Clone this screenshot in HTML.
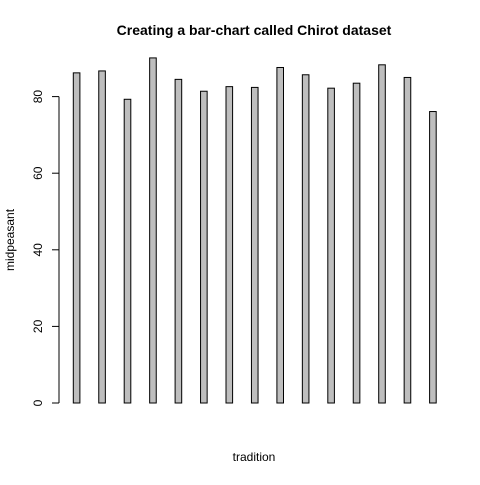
<!DOCTYPE html>
<html><head><meta charset="utf-8"><style>body{margin:0;background:#fff}svg{font-family:"Liberation Sans",sans-serif}</style></head>
<body>
<svg id="c" width="480" height="480" xmlns="http://www.w3.org/2000/svg"></svg>
<script>
const categories=["1","2","3","4","5","6","7","8","9","10","11","12","13","14","15"];
const values=[86.2,86.7,79.3,90.1,84.5,81.4,82.6,82.4,87.6,85.7,82.2,83.5,88.3,85.0,76.1];
const yTicks=[0,20,40,60,80];
const svg=document.getElementById('c');
const NS='http://www.w3.org/2000/svg';
function y(v){return 403-v*3.83;}
function x(i){return 76.6+i*25.45;}
function mk(t,a,txt){const e=document.createElementNS(NS,t);for(const k in a)e.setAttribute(k,a[k]);if(txt!=null)e.textContent=txt;svg.appendChild(e);return e;}
values.forEach((v,i)=>{const r=mk('rect',{x:x(i)-3.3,y:y(v),width:6.6,height:y(0)-y(v),fill:'#bebebe',stroke:'#000','stroke-width':1});

});
const ax=mk('line',{x1:59,x2:59,y1:y(0),y2:y(80),stroke:'#000'});

yTicks.forEach(t=>{const l=mk('line',{x1:52,x2:59,y1:y(t),y2:y(t),stroke:'#000'});

const tx=mk('text',{x:42,y:y(t),'font-size':12,'text-anchor':'middle',transform:`rotate(-90 42 ${y(t)})`},String(t));
});
let e=mk('text',{x:254,y:35,'font-size':14,'font-weight':'bold','text-anchor':'middle'},'Creating a bar-chart called Chirot dataset');

e=mk('text',{x:254,y:461,'font-size':12,'text-anchor':'middle'},'tradition');

e=mk('text',{x:14,y:240,'font-size':12,'text-anchor':'middle',transform:'rotate(-90 14 240)'},'midpeasant');

</script>
</body></html>
